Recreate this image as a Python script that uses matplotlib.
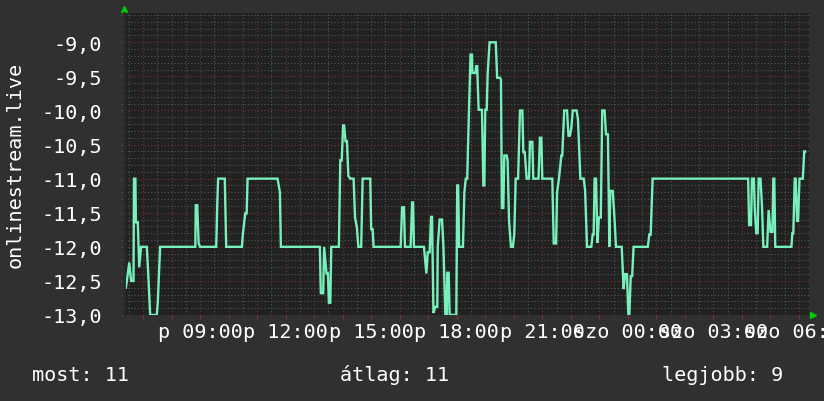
import matplotlib
matplotlib.use('Agg')
import matplotlib.pyplot as plt
from matplotlib.ticker import MultipleLocator, FixedLocator

# minutes after 06:20 (Friday) and the plotted value
minutes = [4, 7, 11, 15, 20, 21, 24, 25, 29, 32, 36, 48, 51, 55, 69, 71, 76,
           150, 151, 154, 157, 160, 194, 196, 198, 212, 215, 248, 250, 255,
           258, 260, 323, 326, 328, 330, 412, 414, 419, 421, 426, 429, 431,
           434, 436, 452, 455, 458, 461, 463, 466, 469, 472, 476, 483, 486,
           490, 493, 499, 502, 518, 520, 523, 525, 582, 585, 589, 591, 603,
           606, 608, 610, 631, 636, 639, 643, 646, 648, 651, 655, 659, 660,
           664, 669, 672, 676, 679, 680, 683, 685, 699, 701, 703, 705, 713,
           716, 719, 722, 725, 729, 732, 733, 739, 741, 743, 746, 753, 756,
           758, 760, 763, 765, 769, 782, 785, 791, 793, 795, 798, 800, 805,
           807, 810, 814, 818, 821, 824, 829, 833, 838, 840, 843, 847, 852,
           854, 859, 861, 872, 875, 878, 880, 901, 904, 909, 911, 915, 920,
           922, 926, 932, 935, 938, 941, 944, 952, 955, 960, 967, 970, 974,
           983, 986, 988, 990, 993, 996, 999, 1003, 1006, 1011, 1014, 1018,
           1021, 1023, 1028, 1031, 1035, 1047, 1051, 1054, 1058, 1061, 1063,
           1066, 1069, 1072, 1102, 1105, 1108, 1112, 1313, 1315, 1319, 1321,
           1325, 1327, 1330, 1333, 1335, 1339, 1342, 1345, 1353, 1356, 1360,
           1364, 1366, 1368, 1370, 1404, 1406, 1408, 1411, 1413, 1416, 1418,
           1421, 1428, 1431, 1433]
values = [-12.6, -12.45, -12.23, -12.5, -12.5, -11.0, -11.0, -11.64, -11.64,
          -12.3, -12.0, -12.0, -12.4, -13.0, -13.0, -12.82, -12.0,
          -12.0, -11.39, -11.39, -11.95, -12.0, -12.0, -11.42, -11.0, -11.0,
          -12.0, -12.0, -11.82, -11.51, -11.51, -11.0, -11.0, -11.12, -11.2,
          -12.0, -12.0, -12.68, -12.68, -12.0, -12.39, -12.39, -12.82, -12.82,
          -12.0, -12.0, -10.73, -10.73, -10.22, -10.22, -10.45, -10.45,
          -10.96, -11.0, -11.0, -11.57, -11.72, -12.0, -12.0, -11.0, -11.0,
          -11.74, -11.74, -12.0, -12.0, -11.42, -11.42, -12.0, -12.0, -11.35,
          -11.35, -12.0, -12.0, -12.39, -12.08, -12.08, -11.56, -11.56,
          -12.97, -12.88, -12.88, -12.0, -11.6, -11.6, -12.0, -13.0, -13.0,
          -12.38, -12.38, -13.0, -13.0, -11.1, -11.1, -12.0, -12.0, -11.2,
          -11.0, -11.0, -10.18, -9.18, -9.18, -9.45, -9.45, -9.35, -9.35,
          -9.99, -9.99, -11.1, -11.1, -9.99, -9.99, -9.47, -9.0, -9.0, -9.52,
          -9.52, -9.55, -11.43, -11.43, -10.66, -10.66, -10.74, -11.62, -12.0,
          -12.0, -11.82, -11.0, -11.0, -10.0, -10.0, -10.61, -10.61, -11.0,
          -11.0, -10.46, -10.46, -11.0, -11.0, -10.4, -10.4, -11.0, -11.0,
          -11.95, -11.95, -11.2, -11.0, -10.66, -10.66, -10.0, -10.0, -10.37,
          -10.37, -10.26, -10.0, -10.0, -10.13, -11.0, -11.0, -11.17, -12.0,
          -12.0, -11.82, -11.82, -11.0, -11.0, -11.94, -11.57, -11.57, -10.0,
          -10.0, -10.35, -10.35, -12.0, -11.18, -11.18, -11.48, -12.0, -12.0,
          -12.62, -12.4, -12.4, -13.0, -13.0, -12.43, -12.43, -12.0, -12.0,
          -11.82, -11.82, -11.0, -11.0, -11.68, -11.68, -11.0, -11.0, -11.45,
          -11.8, -11.8, -11.0, -11.0, -11.39, -12.0, -12.0, -11.46, -11.78,
          -11.78, -11.0, -11.0, -12.0, -12.0, -11.8, -11.8, -11.0, -11.0,
          -11.62, -11.62, -11.0, -11.0, -10.6, -10.6]

# hour ticks (minutes after 06:20) and the 3-hourly labels
tick_minutes = [160, 340, 520, 700, 880, 1060, 1240, 1420]
tick_labels = ['p 09:00', 'p 12:00', 'p 15:00', 'p 18:00', 'p 21:00',
               'szo 00:00', 'szo 03:00', 'szo 06:00']
ytick_values = [-13.0, -12.5, -12.0, -11.5, -11.0, -10.5, -10.0, -9.5, -9.0]
legend_texts = ['most: 11', 'átlag: 11', 'legjobb: 9']

BG = '#303030'
CANVAS = '#212121'
FONT = 'DejaVu Sans Mono'
FS = 14.5

plt.rcParams['font.family'] = [FONT, 'DejaVu Sans']

fig = plt.figure(figsize=(8.24, 4.02), dpi=100, facecolor=BG)
ax = fig.add_axes([124 / 824, 1 - 316 / 402, 685 / 824, 302 / 402])
ax.set_facecolor(CANVAS)

ax.set_xlim(0, 1441)
ax.set_ylim(-13.0, -8.57)

# grid: red dotted majors, gray dotted minors
ax.xaxis.set_major_locator(FixedLocator(list(range(40, 1441, 60))))
ax.xaxis.set_minor_locator(FixedLocator(list(range(10, 1441, 60))))
ax.yaxis.set_major_locator(FixedLocator(ytick_values))
ax.yaxis.set_minor_locator(MultipleLocator(0.1))
ax.grid(which='minor', color='#555555', linestyle=(0, (1, 2)), linewidth=0.8)
ax.grid(which='major', color='#7a3434', linestyle=(0, (1, 2)), linewidth=0.8)
ax.set_axisbelow(True)

ax.set_xticklabels([])
ax.set_yticklabels([f'{v:.1f}'.replace('.', ',') for v in ytick_values])
ax.tick_params(axis='x', which='major', length=3, color='#7a3434', labelsize=FS)
ax.tick_params(axis='x', which='minor', length=0)
ax.tick_params(axis='y', which='both', length=2, color='#555555',
               labelcolor='white', labelsize=FS, pad=14)

for s in ax.spines.values():
    s.set_visible(False)
ax.spines['left'].set_visible(True)
ax.spines['left'].set_color('#2a2a2a')
ax.spines['left'].set_linewidth(2)

# 3-hourly x labels, allowed to overlap and run off the figure (like rrdtool)
for m, lab in zip(tick_minutes, tick_labels):
    ax.annotate(lab, xy=(m, 0), xycoords=('data', 'axes fraction'),
                xytext=(0, -7), textcoords='offset pixels', ha='center',
                va='top', color='white', fontsize=FS, annotation_clip=False)

ax.plot(minutes, values, color='#78f0bc', linewidth=1.7, solid_joinstyle='miter')

# rrd style axis arrows
ax.plot([0], [1 + 4 / 302], transform=ax.transAxes, marker='^', color='#00cc00',
        markersize=5, linestyle='none', clip_on=False)
ax.plot([1 + 4 / 685], [0], transform=ax.transAxes, marker='>', color='#00cc00',
        markersize=5, linestyle='none', clip_on=False)

fig.text(15 / 824, 1 - 165 / 402, 'onlinestream.live', rotation=90,
         ha='center', va='center', color='white', fontsize=FS)

fig.text(32 / 824, 1 - 381 / 402, legend_texts[0], ha='left', va='baseline',
         color='white', fontsize=FS)
fig.text(340 / 824, 1 - 381 / 402, legend_texts[1], ha='left', va='baseline',
         color='white', fontsize=FS)
fig.text(662 / 824, 1 - 381 / 402, legend_texts[2], ha='left', va='baseline',
         color='white', fontsize=FS)

fig.savefig('out.png', dpi=100, facecolor=BG)
